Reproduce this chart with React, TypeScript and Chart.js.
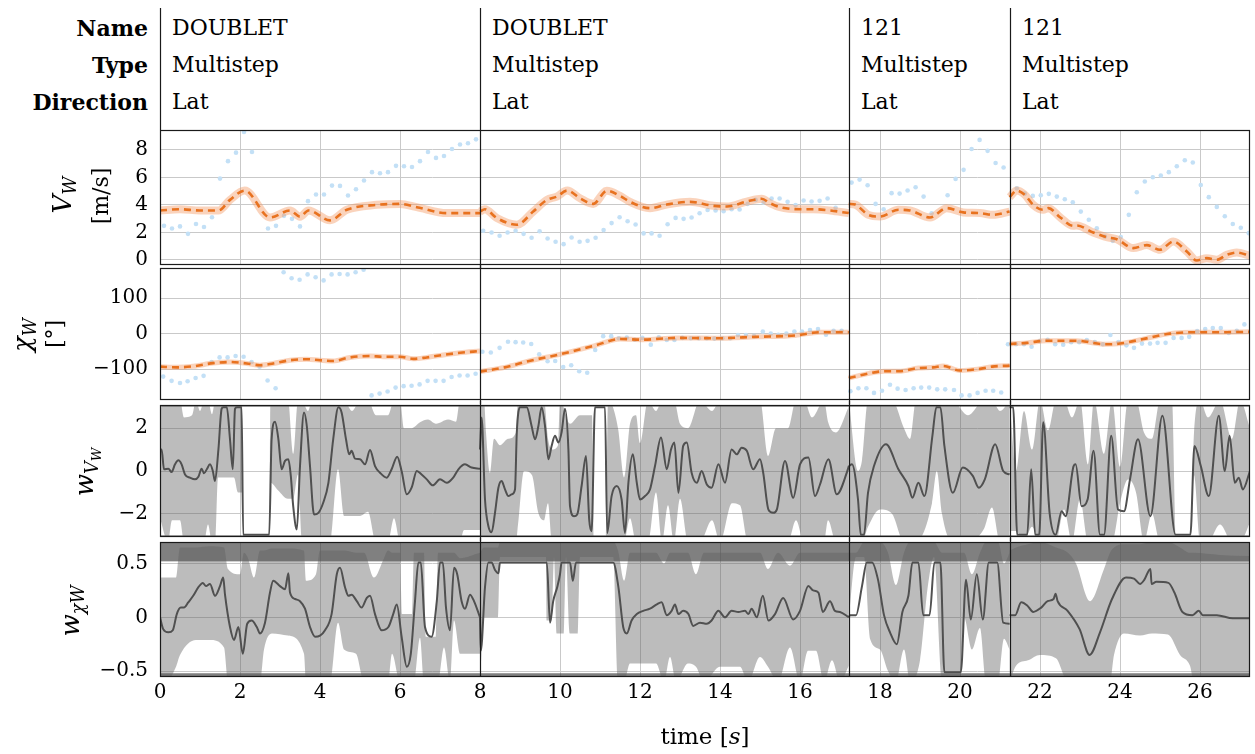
import React, { useEffect, useRef } from 'react';
import { Chart, registerables } from 'chart.js';

Chart.register(...registerables);

// ---------------- axes / labels ----------------
const T_MIN = 0;
const T_MAX = 27.25;
const SEGMENT_STARTS = [8, 17.22, 21.24];
const TIME_TICKS = [0, 2, 4, 6, 8, 10, 12, 14, 16, 18, 20, 22, 24, 26];
const VW_TICKS = [0, 2, 4, 6, 8];
const CHI_TICKS = [-100, 0, 100];
const WV_TICKS = [-2, 0, 2];
const WCHI_TICKS = [-0.5, 0, 0.5];

const HEADER_LABELS = ['Name', 'Type', 'Direction'];
const SEG_NAMES = ['DOUBLET', 'DOUBLET', '121', '121'];
const SEG_TYPES = ['Multistep', 'Multistep', 'Multistep', 'Multistep'];
const SEG_DIRS = ['Lat', 'Lat', 'Lat', 'Lat'];

type Pair = [number, number];
type Tri = [number, number, number];

// ---------------- V_W [m/s] ----------------
const vwMeasured: Pair[] = [
  [0.1, 2.47], [0.3, 2.28], [0.5, 2.43], [0.7, 1.89], [0.9, 2.6], [1.1, 2.39], [1.3, 3.1], [1.5, 5.91], [1.7, 7.18], [1.9, 7.8],
  [2.1, 9.31], [2.3, 7.85], [2.7, 2.28], [2.9, 2.47], [3.1, 3.2], [3.3, 2.98], [3.5, 2.43], [3.7, 4.27], [3.9, 4.75], [4.1, 4.75],
  [4.3, 5.4], [4.5, 5.38], [4.7, 4.68], [4.9, 5.14], [5.1, 5.77], [5.3, 6.38], [5.5, 6.3], [5.7, 6.38], [5.9, 6.84], [6.1, 6.81],
  [6.3, 6.76], [6.5, 7.18], [6.7, 7.85], [6.9, 7.42], [7.1, 7.56], [7.3, 8.07], [7.5, 8.39], [7.7, 8.48], [7.9, 8.77],
  [8.08, 2.11], [8.29, 1.99], [8.49, 1.75], [8.69, 1.99], [8.89, 2.11], [9.09, 1.89], [9.29, 1.6], [9.49, 2.08], [9.69, 1.55], [9.89, 1.31],
  [10.09, 1.14], [10.29, 1.62], [10.49, 1.31], [10.69, 1.38], [10.89, 1.6], [11.09, 2.16], [11.29, 2.67], [11.49, 3.1], [11.69, 2.81], [11.89, 2.57],
  [12.09, 1.92], [12.29, 1.92], [12.49, 1.75], [12.69, 2.59], [12.89, 3.05], [13.09, 2.98], [13.29, 3.08], [13.49, 3.39], [13.69, 3.63], [13.89, 3.59],
  [14.09, 3.54], [14.29, 3.68], [14.49, 3.66], [14.69, 4.07], [14.89, 4.36], [15.09, 4.17], [15.29, 4.46], [15.49, 4.46], [15.69, 4.22], [15.89, 3.98],
  [16.09, 4.32], [16.29, 4.24], [16.49, 4.29], [16.69, 4.46], [16.89, 3.78],
  [17.29, 5.62], [17.49, 5.84], [17.69, 5.43], [17.89, 4.07], [18.09, 3.68], [18.29, 4.85], [18.49, 4.82], [18.69, 5.04], [18.89, 5.28], [19.09, 4.6],
  [19.29, 3.39], [19.69, 4.7], [19.89, 5.89], [20.09, 6.55], [20.29, 8.07], [20.49, 8.73], [20.69, 7.93], [20.89, 7.05], [21.09, 6.72],
  [21.42, 5.21], [21.62, 4.82], [21.82, 4.65], [22.02, 4.7], [22.22, 4.8], [22.42, 4.6], [22.62, 4.41], [22.82, 4.19], [23.02, 3.51], [23.22, 2.91],
  [23.42, 2.3], [23.62, 1.7], [23.82, 1.38], [24.02, 1.65], [24.22, 3.27], [24.42, 4.92], [24.62, 5.7], [24.82, 6.01], [25.02, 6.13], [25.22, 6.38],
  [25.42, 6.81], [25.62, 7.25], [25.82, 7.08], [26.02, 5.45], [26.22, 4.56], [26.42, 3.85], [26.62, 3.17], [26.82, 2.61], [27.02, 2.33], [27.22, 1.94],
];
const vwEstSeg1: Pair[] = [[0, 3.59], [0.5, 3.68], [1.0, 3.59], [1.46, 3.59], [1.75, 4.36], [2.12, 5.04], [2.75, 3.08], [3.25, 3.59], [3.5, 3.14], [3.71, 3.59], [4.25, 2.87], [4.67, 3.64], [5.42, 4.0], [6.0, 4.07], [6.42, 3.83], [7.17, 3.4], [8.0, 3.4]];
const vwEstSeg2: Pair[] = [[8.0, 3.51], [8.12, 3.68], [8.42, 3.04], [8.92, 2.55], [9.33, 3.51], [9.67, 4.36], [9.92, 4.6], [10.18, 5.04], [10.5, 4.48], [10.83, 4.07], [11.17, 5.02], [11.5, 4.65], [11.75, 4.22], [12.25, 3.76], [12.67, 4.02], [13.25, 4.22], [13.83, 3.93], [14.17, 3.88], [14.67, 4.24], [15.04, 4.44], [15.25, 4.12], [15.5, 3.83], [16.0, 3.68], [16.33, 3.68], [16.75, 3.59], [17.22, 3.4]];
const vwEstSeg3: Pair[] = [[17.22, 4.07], [17.38, 4.02], [17.71, 3.27], [18.0, 3.15], [18.46, 3.64], [18.75, 3.59], [19.25, 3.08], [19.67, 3.76], [20.08, 3.45], [20.5, 3.4], [20.83, 3.27], [21.24, 3.51]];
const vwEstSeg4: Pair[] = [[21.24, 4.56], [21.42, 5.04], [21.62, 4.73], [21.83, 4.0], [22.08, 3.64], [22.21, 3.76], [22.5, 3.1], [22.83, 2.47], [22.92, 2.5], [23.33, 1.99], [23.67, 1.65], [23.92, 1.5], [24.33, 0.85], [24.67, 1.07], [25.0, 0.73], [25.33, 1.33], [25.67, 0.61], [25.92, -0.05], [26.17, 0.12], [26.42, 0.0], [26.67, 0.36], [26.92, 0.53], [27.25, 0.29]];

// ---------------- chi_W [deg] ----------------
const chiMeasured: Pair[] = [
  [0.08, -121], [0.29, -133], [0.5, -139], [0.69, -134], [0.89, -125], [1.09, -119], [1.29, -80], [1.49, -67], [1.69, -67], [1.89, -63],
  [2.09, -65], [2.29, -80], [2.49, -93], [2.69, -132], [2.89, -154], [3.09, 173], [3.29, 156], [3.49, 152], [3.69, 167], [3.89, 159],
  [4.09, 150], [4.29, 167], [4.49, 168], [4.69, 167], [4.89, 173], [5.09, 180], [5.29, -174], [5.49, -169], [5.69, -163], [5.89, -152],
  [6.09, -148], [6.29, -147], [6.49, -143], [6.69, -133], [6.89, -133], [7.09, -133], [7.29, -122], [7.49, -118], [7.69, -118], [7.89, -113],
  [8.06, -51], [8.27, -53], [8.49, -40], [8.7, -23], [8.89, -24], [9.08, -25], [9.28, -29], [9.48, -58], [9.69, -78], [9.88, -77],
  [10.08, -94], [10.28, -89], [10.48, -106], [10.68, -110], [10.88, -46], [11.08, -7], [11.28, -7], [11.47, -13], [11.67, -11], [11.87, -17],
  [12.06, -12], [12.27, -31], [12.47, -10], [12.67, -18], [12.86, -18], [13.06, -12], [13.27, -13], [13.47, -13], [13.67, -13], [13.86, -14],
  [14.06, -13], [14.26, -13], [14.45, -4], [14.65, -4], [14.85, -7], [15.07, 6], [15.27, 0], [15.46, -3], [15.66, 0], [15.86, 6],
  [16.05, 6], [16.25, 10], [16.45, 13], [16.65, -3], [16.84, 8], [17.04, 8],
  [17.26, -162], [17.46, -154], [17.66, -154], [17.85, -167], [18.05, -161], [18.25, -144], [18.44, -155], [18.64, -159], [18.84, -154], [19.03, -152],
  [19.23, -152], [19.43, -157], [19.63, -157], [19.85, -159], [20.04, -174], [20.24, -174], [20.44, -167], [20.64, -161], [20.83, -161], [21.03, -166],
  [21.2, -30], [21.4, -30], [21.6, -30], [21.79, -37], [21.99, -21], [22.19, -17], [22.38, -30], [22.58, -31], [22.78, -24], [22.98, -24],
  [23.17, -18], [23.37, -24], [23.57, -30], [23.76, -4], [23.96, -24], [24.16, -33], [24.35, -40], [24.55, -28], [24.75, -28], [24.94, -26],
  [25.14, -26], [25.34, -12], [25.54, -12], [25.73, -9], [25.93, 7], [26.13, 13], [26.32, 16], [26.52, 16], [26.72, 2], [26.92, 8], [27.11, 26],
];
const chiEstSeg1: Pair[] = [[0, -93], [0.42, -95], [0.83, -92], [1.33, -83], [1.75, -80], [2.17, -84], [2.5, -89], [2.83, -84], [3.25, -75], [3.67, -72], [4.0, -75], [4.33, -77], [4.75, -67], [5.25, -63], [5.58, -65], [6.0, -65], [6.33, -71], [6.67, -67], [7.08, -60], [7.5, -54], [8.0, -49]];
const chiEstSeg2: Pair[] = [[8.0, -107], [8.62, -95], [9.23, -77], [9.97, -59], [10.83, -35], [11.51, -15], [12.06, -17], [12.93, -12], [13.91, -13], [14.9, -9], [15.88, -5], [16.5, 4], [17.22, 4]];
const chiEstSeg3: Pair[] = [[17.22, -125], [17.73, -112], [18.1, -106], [18.47, -106], [18.96, -97], [19.33, -95], [19.58, -91], [20.0, -104], [20.44, -100], [20.8, -93], [21.24, -90]];
const chiEstSeg4: Pair[] = [[21.24, -29], [21.67, -26], [22.16, -20], [22.9, -20], [23.64, -30], [24.0, -28], [24.63, -14], [25.24, 0], [25.86, 4], [26.47, 4], [27.25, 5]];

// ---------------- w_{V_W} ----------------
const wvSeg1: Pair[] = [[0, 1.0], [0.04, 1.0], [0.1, 0.08], [0.21, 0.11], [0.29, -0.05], [0.375, 0.31], [0.46, 0.5], [0.54, 0.31], [0.625, -0.16], [0.75, -0.31], [0.875, -0.39], [0.96, -0.27], [1.04, 0.11], [1.1, -0.11], [1.17, 0.08], [1.25, 0.31], [1.32, 0.0], [1.375, -0.47], [1.46, 1.0], [1.54, 2.9], [1.58, 2.98], [1.67, 2.98], [1.75, 1.48], [1.82, 0.08], [1.875, 2.9], [1.92, 2.98], [2.04, 2.98], [2.08, -2.97], [2.73, -2.97], [2.79, 1.48], [2.875, 2.3], [2.96, 1.48], [3.04, 0.08], [3.125, 0.47], [3.21, 0.55], [3.27, -0.23], [3.33, -1.64], [3.42, -2.73], [3.5, 0.23], [3.6, 2.73], [3.67, 2.1], [3.75, 0.23], [3.85, -2.03], [3.96, -1.95], [4.08, -1.48], [4.21, -0.55], [4.33, 1.48], [4.46, 2.97], [4.54, 2.73], [4.65, 1.48], [4.73, 0.78], [4.79, 0.94], [4.875, 0.58], [5.0, 0.55], [5.125, 0.31], [5.25, 0.98], [5.375, 0.23], [5.5, -0.08], [5.67, -0.31], [5.79, 0.08], [5.93, 0.67], [6.04, 0.0], [6.17, -1.09], [6.29, -0.78], [6.42, 0.0], [6.54, -0.16], [6.67, -0.39], [6.82, -0.67], [7.0, -0.39], [7.17, -0.55], [7.33, -0.31], [7.46, 0.08], [7.625, 0.31], [7.79, 0.16], [8.0, 0.11]];
const wvSeg2: Pair[] = [[8.0, 1.0], [8.04, 2.5], [8.125, -1.33], [8.21, -2.58], [8.29, -2.86], [8.375, -1.95], [8.46, -0.78], [8.54, -0.47], [8.625, -0.86], [8.71, -1.17], [8.79, -1.09], [8.875, -0.86], [8.92, 1.8], [9.0, 2.98], [9.17, 2.97], [9.29, 2.1], [9.375, 1.48], [9.46, 2.1], [9.54, 2.97], [9.625, 2.1], [9.71, 0.55], [9.79, 1.17], [9.875, 1.64], [9.96, 1.33], [10.04, 1.8], [10.125, 2.9], [10.21, 1.0], [10.25, -1.64], [10.35, -2.11], [10.43, -2.03], [10.54, -0.7], [10.65, 0.7], [10.73, -2.27], [10.79, -2.81], [10.875, 2.97], [11.125, 2.97], [11.18, -2.89], [11.29, -1.17], [11.42, -0.7], [11.54, -1.33], [11.625, -2.89], [11.71, -0.55], [11.82, 0.78], [11.92, -0.55], [12.0, -1.33], [12.125, -1.17], [12.25, -0.86], [12.375, 0.23], [12.525, 1.56], [12.67, 0.08], [12.775, 1.0], [12.86, 1.33], [12.96, -1.02], [13.08, 1.17], [13.17, 1.33], [13.29, -0.08], [13.42, -0.55], [13.54, 0.0], [13.67, -0.63], [13.79, -0.78], [13.96, 0.31], [14.125, -0.55], [14.29, 1.0], [14.42, 0.78], [14.54, 1.09], [14.67, 0.94], [14.83, 0.08], [15.0, 0.55], [15.08, -0.08], [15.21, -1.8], [15.33, -1.95], [15.42, -1.8], [15.625, 0.47], [15.83, -1.25], [16.0, 0.31], [16.21, 0.63], [16.375, -1.17], [16.5, -0.63], [16.71, 0.55], [16.92, -1.09], [17.17, -0.08], [17.22, 0.23]];
const wvSeg3: Pair[] = [[17.22, 0.23], [17.3, 0.31], [17.45, -1.33], [17.52, -2.98], [17.6, -2.98], [17.7, -1.02], [17.85, 0.23], [18.15, 1.25], [18.46, 0.08], [18.71, -0.7], [18.81, -1.25], [18.96, -0.55], [19.11, -1.17], [19.31, 1.64], [19.41, 2.98], [19.51, 2.98], [19.61, 1.17], [19.82, -1.02], [20.07, 0.16], [20.32, -0.23], [20.47, -0.78], [20.62, -0.39], [20.88, 1.25], [21.08, 0.0], [21.24, -0.16]];
const wvSeg4: Pair[] = [[21.24, 2.98], [21.33, 2.98], [21.43, -2.98], [21.68, -2.98], [21.78, 0.08], [21.88, -2.98], [21.98, -2.98], [22.08, 2.27], [22.24, -1.95], [22.39, -2.98], [22.54, -1.88], [22.64, -2.11], [22.84, 0.23], [22.89, 0.31], [23.04, -1.64], [23.19, -1.33], [23.34, 0.94], [23.5, -2.98], [23.6, -2.98], [23.78, 1.64], [23.95, -1.8], [24.1, -1.88], [24.25, -0.39], [24.45, 1.48], [24.76, -2.11], [25.06, 2.58], [25.39, -2.98], [25.76, -2.98], [25.86, 1.17], [26.02, 0.23], [26.22, -1.17], [26.47, 2.58], [26.62, 0.0], [26.74, 1.64], [26.87, -0.55], [26.97, -0.31], [27.07, -0.86], [27.25, 0.0]];
// [t, upper, lower]
const wvBandSeg1: Tri[] = [[0, 2.9, -2.2], [0.2, 3.3, -3.3], [0.3, 3.3, -2.3], [0.5, 3.3, -2.3], [0.6, 2.5, -3.3], [0.8, 2.6, -3.3], [0.9, 3.3, -3.3], [1.0, 2.8, -3.3], [1.1, 3.3, -3.3], [1.2, 3.3, -2.5], [1.3, 2.65, -3.3], [1.38, 3.3, -3.3], [1.45, 3.3, -0.3], [1.85, 3.3, -0.3], [1.95, 3.3, -1.0], [2.05, 3.3, -1.0], [2.08, -3.3, -3.3], [2.73, -3.3, -3.3], [2.76, 3.3, -0.55], [2.95, 3.3, -0.9], [3.2, 3.3, -1.3], [3.33, 0.8, -1.3], [3.45, 3.3, -0.16], [3.55, 3.3, -3.3], [3.7, 2.8, -3.3], [3.8, 3.3, -3.3], [4.25, 3.3, -3.3], [4.45, 3.3, 0.08], [4.6, 3.3, -2.1], [4.8, 2.8, -2.1], [5.0, 3.3, -2.1], [5.2, 3.3, -1.9], [5.4, 2.6, -3.3], [5.7, 2.6, -3.3], [5.85, 3.3, -2.2], [6.0, 3.3, -3.3], [6.1, 2.0, -3.3], [6.3, 2.0, -3.3], [6.5, 2.27, -3.3], [6.7, 2.4, -3.3], [6.9, 2.2, -3.3], [7.2, 2.4, -3.3], [7.4, 2.3, -3.3], [7.5, 3.3, -3.3], [7.6, 3.3, -2.75], [8.0, 3.3, -2.75]];
const wvBandSeg2: Tri[] = [[8.0, 3.3, -3.3], [8.1, 3.3, -3.3], [8.15, 1.8, -3.3], [8.25, -0.08, -3.3], [8.35, 1.5, -3.3], [8.5, 1.2, -3.3], [8.7, 1.5, -3.3], [8.9, 1.8, -3.3], [8.95, 3.3, -2.5], [9.1, 3.3, 0.0], [9.3, 3.3, -0.2], [9.45, 3.3, -1.9], [9.6, 3.3, -2.3], [9.7, 1.5, -1.5], [9.8, 1.0, -3.3], [9.95, 1.2, -3.3], [10.0, 3.3, -3.3], [10.25, 2.2, -3.3], [10.5, 2.6, -3.3], [10.8, 2.6, -3.3], [10.85, -3.3, -3.3], [11.15, -3.3, -3.3], [11.2, 3.3, -3.3], [11.45, 2.0, -3.3], [11.6, -0.3, -3.3], [11.75, 2.2, -2.2], [11.9, 2.6, -3.3], [12.0, 1.3, -3.3], [12.2, 3.3, -3.3], [12.4, 2.8, -1.0], [12.55, 3.3, -3.3], [12.7, 3.3, -1.6], [12.85, 3.3, -3.3], [13.0, 2.2, -1.3], [13.2, 2.0, -3.3], [13.5, 3.3, -3.3], [13.8, 2.8, -2.3], [14.0, 3.3, -3.3], [14.3, 3.3, -1.5], [14.5, 3.3, -1.6], [14.7, 3.3, -3.3], [15.0, 3.3, -3.3], [15.2, 0.7, -3.3], [15.4, 2.0, -3.3], [15.7, 2.0, -3.3], [15.9, 3.3, -2.3], [16.1, 3.3, -3.3], [16.3, 2.5, -3.3], [16.6, 3.3, -3.3], [16.7, 2.3, -2.3], [16.9, 1.8, -3.3], [17.22, 3.0, -3.3]];
const wvBandSeg3: Tri[] = [[17.22, 3.3, -3.3], [17.45, 0.0, -3.3], [17.55, 0.5, -3.3], [17.7, 3.3, -2.6], [18.0, 3.3, -1.8], [18.3, 3.3, -2.0], [18.6, 2.0, -3.3], [18.75, 1.5, -3.3], [18.9, 3.3, -3.3], [19.3, 3.3, -1.5], [19.42, 3.3, 0.0], [19.55, 3.3, -2.0], [19.8, 3.3, -3.3], [20.2, 2.6, -3.3], [20.6, 3.3, -2.7], [20.8, 3.3, -1.7], [21.0, 2.8, -3.3], [21.24, 3.3, -3.3]];
const wvBandSeg4: Tri[] = [[21.24, 3.3, -2.8], [21.4, 0.0, -2.8], [21.6, 2.8, -3.3], [21.8, 1.0, -2.6], [22.0, 3.3, -3.3], [22.2, 1.9, -3.3], [22.4, 3.3, -3.3], [22.6, 3.3, -1.8], [22.8, 2.5, -3.3], [23.0, 3.3, -1.3], [23.2, 0.3, -3.3], [23.35, 3.3, -3.3], [23.6, 0.8, -3.3], [23.8, 3.3, -3.3], [24.0, 0.2, -1.5], [24.2, 3.3, -0.4], [24.4, 3.3, -1.0], [24.6, 1.8, -3.3], [24.8, 1.5, -2.0], [25.0, 3.3, -3.3], [25.3, 3.3, -3.3], [25.4, -3.3, -3.3], [25.75, -3.3, -3.3], [25.85, 1.8, -0.2], [26.0, 3.3, -3.3], [26.2, 2.5, -3.3], [26.5, 3.3, -2.5], [26.8, 1.5, -3.3], [27.0, 3.3, -3.3], [27.25, 2.0, -2.4]];

// ---------------- w_{chi_W} ----------------
const wcSeg1: Pair[] = [[0, 0.0], [0.08, -0.11], [0.21, -0.14], [0.32, -0.12], [0.42, 0.03], [0.52, 0.09], [0.6, 0.09], [0.71, 0.14], [0.83, 0.2], [0.96, 0.28], [1.07, 0.32], [1.15, 0.29], [1.25, 0.31], [1.375, 0.2], [1.5, 0.29], [1.58, 0.37], [1.625, 0.21], [1.75, -0.09], [1.85, -0.21], [1.96, -0.09], [2.07, -0.34], [2.18, -0.06], [2.29, -0.03], [2.42, -0.09], [2.5, -0.15], [2.625, -0.05], [2.75, 0.23], [2.83, 0.34], [3.0, 0.29], [3.125, 0.26], [3.21, 0.41], [3.25, 0.23], [3.375, 0.17], [3.5, 0.15], [3.625, 0.08], [3.75, -0.09], [3.875, -0.18], [4.0, -0.17], [4.125, -0.12], [4.29, 0.03], [4.42, 0.4], [4.5, 0.46], [4.625, 0.28], [4.71, 0.2], [4.79, 0.21], [4.92, 0.15], [5.04, 0.09], [5.17, 0.18], [5.25, 0.2], [5.375, 0.03], [5.54, -0.12], [5.71, -0.09], [5.83, 0.03], [5.92, 0.12], [6.04, -0.18], [6.17, -0.46], [6.27, -0.34], [6.375, 0.15], [6.46, 0.51], [6.52, 0.51], [6.625, -0.09], [6.79, -0.18], [6.92, 0.15], [7.0, 0.51], [7.07, 0.51], [7.15, 0.09], [7.25, -0.12], [7.35, 0.46], [7.43, 0.4], [7.54, 0.15], [7.625, 0.08], [7.75, 0.21], [7.85, 0.15], [8.0, 0.0]];
const wcSeg2: Pair[] = [[8.0, 0.0], [8.02, -0.31], [8.125, 0.28], [8.21, 0.51], [8.29, 0.51], [8.375, 0.44], [8.46, 0.41], [8.5, 0.51], [9.67, 0.51], [9.75, -0.05], [9.83, 0.15], [9.93, 0.28], [10.0, 0.4], [10.04, 0.51], [10.25, 0.51], [10.32, 0.34], [10.4, 0.51], [11.33, 0.51], [11.46, 0.28], [11.58, -0.09], [11.67, -0.15], [11.79, -0.03], [11.92, 0.03], [12.08, 0.06], [12.25, 0.08], [12.42, 0.12], [12.54, 0.14], [12.67, 0.02], [12.79, 0.06], [12.875, 0.12], [12.96, 0.03], [13.08, 0.06], [13.21, 0.03], [13.33, -0.08], [13.5, -0.05], [13.67, -0.06], [13.79, -0.03], [13.96, 0.06], [14.125, 0.0], [14.29, 0.06], [14.46, 0.05], [14.625, 0.06], [14.71, 0.03], [14.79, 0.08], [14.92, 0.0], [15.07, 0.2], [15.21, -0.03], [15.375, 0.03], [15.58, 0.18], [15.83, -0.02], [16.0, 0.06], [16.21, 0.29], [16.33, 0.25], [16.46, 0.23], [16.57, 0.05], [16.75, 0.15], [16.875, 0.06], [17.0, 0.05], [17.22, 0.0]];
const wcSeg3: Pair[] = [[17.22, 0.0], [17.25, 0.02], [17.4, 0.02], [17.55, 0.29], [17.67, 0.51], [17.8, 0.51], [17.95, 0.35], [18.1, 0.02], [18.25, -0.14], [18.42, -0.25], [18.56, 0.05], [18.71, 0.2], [18.81, 0.51], [18.96, 0.51], [19.08, 0.02], [19.24, 0.02], [19.36, 0.51], [19.51, 0.51], [19.61, -0.51], [20.02, -0.51], [20.15, 0.35], [20.27, -0.02], [20.42, 0.4], [20.57, -0.02], [20.72, 0.51], [20.93, 0.51], [21.08, -0.05], [21.24, -0.06]];
const wcSeg4: Pair[] = [[21.24, 0.02], [21.38, 0.02], [21.53, 0.14], [21.68, 0.11], [21.83, 0.05], [22.03, 0.09], [22.19, 0.15], [22.34, 0.17], [22.39, 0.22], [22.44, 0.15], [22.69, 0.06], [22.99, -0.11], [23.24, -0.35], [23.5, -0.14], [23.8, 0.17], [24.15, 0.37], [24.35, 0.36], [24.5, 0.31], [24.61, 0.35], [24.76, 0.45], [24.79, 0.31], [24.91, 0.33], [25.21, 0.32], [25.36, 0.23], [25.56, 0.05], [25.81, 0.02], [25.97, 0.06], [26.07, 0.02], [26.42, 0.02], [26.82, -0.01], [27.25, -0.01]];
const wcBandSeg1: Tri[] = [[0, 0.37, -0.6], [0.15, 0.37, -0.6], [0.4, 0.37, -0.46], [0.5, 0.65, -0.35], [0.9, 0.65, -0.21], [1.25, 0.66, -0.21], [1.6, 0.65, -0.28], [1.7, 0.45, -0.6], [2.0, 0.4, -0.6], [2.1, 0.6, -0.6], [2.2, 0.55, -0.6], [2.35, 0.37, -0.6], [2.5, 0.62, -0.6], [2.6, 0.62, -0.3], [2.8, 0.64, -0.15], [3.2, 0.64, -0.17], [3.6, 0.62, -0.34], [3.65, 0.34, -0.6], [3.9, 0.4, -0.6], [4.0, 0.62, -0.6], [4.25, 0.62, -0.6], [4.45, 0.62, -0.05], [4.6, 0.62, -0.3], [4.9, 0.6, -0.34], [5.1, 0.6, -0.6], [5.35, 0.37, -0.6], [5.6, 0.55, -0.6], [5.7, 0.62, -0.6], [5.8, 0.6, -0.34], [6.0, 0.6, -0.6], [6.05, 0.03, -0.6], [6.3, 0.03, -0.6], [6.35, 0.6, -0.6], [6.5, 0.6, -0.19], [6.6, 0.6, -0.6], [6.65, -0.18, -0.6], [6.9, -0.18, -0.6], [6.95, 0.6, -0.6], [7.1, 0.6, -0.28], [7.25, 0.6, -0.6], [7.35, 0.6, -0.03], [7.5, 0.55, -0.34], [8.0, 0.6, -0.34]];
const wcBandSeg2: Tri[] = [[8.0, 0.6, -0.6], [8.1, 0.65, 0.0], [8.45, 0.65, 0.0], [8.5, 0.7, 0.56], [9.65, 0.7, 0.56], [9.67, 0.7, -0.03], [9.8, 0.7, -0.03], [9.85, 0.7, 0.56], [9.92, 0.7, -0.15], [10.1, 0.7, -0.15], [10.15, 0.7, 0.56], [10.25, 0.7, -0.15], [10.45, 0.7, -0.15], [10.5, 0.7, 0.56], [11.33, 0.7, 0.56], [11.45, 0.62, -0.6], [11.6, 0.34, -0.6], [11.75, 0.6, -0.43], [12.4, 0.6, -0.43], [12.6, 0.5, -0.6], [12.75, 0.6, -0.37], [12.9, 0.6, -0.6], [13.2, 0.6, -0.43], [13.4, 0.4, -0.46], [13.6, 0.6, -0.6], [14.0, 0.6, -0.46], [14.5, 0.6, -0.46], [14.7, 0.6, -0.6], [15.0, 0.6, -0.37], [15.2, 0.45, -0.46], [15.45, 0.6, -0.6], [15.75, 0.48, -0.28], [16.0, 0.6, -0.6], [16.2, 0.6, -0.31], [16.4, 0.6, -0.31], [16.6, 0.6, -0.6], [16.8, 0.6, -0.4], [17.0, 0.6, -0.6], [17.22, 0.6, -0.45]];
const wcBandSeg3: Tri[] = [[17.22, 0.6, 0.0], [17.4, 0.6, 0.56], [17.6, 0.7, 0.56], [17.75, 0.7, -0.2], [18.0, 0.7, -0.3], [18.2, 0.6, -0.5], [18.4, 0.3, -0.6], [18.6, 0.6, -0.3], [18.75, 0.7, -0.6], [19.0, 0.7, -0.4], [19.2, 0.7, 0.3], [19.35, 0.7, 0.56], [19.55, 0.6, -0.6], [20.0, 0.6, -0.6], [20.1, 0.6, 0.0], [20.3, 0.4, -0.3], [20.5, 0.6, -0.1], [20.65, 0.7, -0.6], [20.95, 0.7, -0.6], [21.1, 0.5, -0.2], [21.24, 0.6, -0.3]];
const wcBandSeg4: Tri[] = [[21.24, 0.62, -0.6], [21.4, 0.65, -0.45], [21.7, 0.68, -0.4], [22.0, 0.7, -0.35], [22.4, 0.65, -0.38], [22.7, 0.6, -0.6], [22.9, 0.5, -0.6], [23.25, 0.15, -0.6], [23.6, 0.45, -0.6], [23.75, 0.6, -0.6], [23.85, 0.65, -0.35], [24.1, 0.68, -0.15], [24.5, 0.68, -0.17], [24.8, 0.7, -0.15], [25.2, 0.7, -0.16], [25.5, 0.65, -0.35], [25.75, 0.6, -0.45], [25.85, 0.6, -0.6], [26.5, 0.58, -0.6], [27.25, 0.57, -0.6]];

// ---------------- styles ----------------
const SERIF = "'DejaVu Serif', serif";
const HEAD_FONT = "'DejaVu Serif', serif";
const GRID = '#c9c9c9';
const BLUE = '#c3e0f6';
const ORANGE = '#e8721f';
const ORANGE_BAND = 'rgba(242,150,95,0.42)';
const GRAY_FILL = 'rgba(95,95,95,0.42)';
const DARK_BAND = 'rgba(60,60,60,0.65)';
const LINE_GRAY = '#505050';

// ---------------- helpers ----------------
const joinSegs = (segs: Pair[][]) => {
  const out: { x: number; y: number | null }[] = [];
  segs.forEach((s, i) => {
    if (i > 0) out.push({ x: s[0][0], y: null });
    s.forEach(([x, y]) => out.push({ x, y }));
  });
  return out;
};
const joinBand = (segs: Tri[][], col: 1 | 2) => {
  const out: { x: number; y: number | null }[] = [];
  segs.forEach((s, i) => {
    if (i > 0) out.push({ x: s[0][0], y: null });
    s.forEach((r) => out.push({ x: r[0], y: r[col] }));
  });
  return out;
};
const fmt = (v: number) => (v < 0 ? '\u2212' + Math.abs(v) : String(v));

const estimateDatasets = (segs: Pair[][], bandWidth: number) => [
  { data: joinSegs(segs), borderColor: ORANGE, borderWidth: 2.6, borderDash: [7, 5], pointRadius: 0, fill: false, cubicInterpolationMode: 'monotone' },
  { data: joinSegs(segs), borderColor: ORANGE_BAND, borderWidth: bandWidth, borderJoinStyle: 'round', borderCapStyle: 'butt', pointRadius: 0, fill: false, cubicInterpolationMode: 'monotone' },
];
const measuredDataset = (pts: Pair[]) => ({
  data: pts.map(([x, y]) => ({ x, y })), showLine: false, pointRadius: 2.3, pointBackgroundColor: BLUE, pointBorderWidth: 0, fill: false,
});
const weightDatasets = (line: Pair[][], band: Tri[][]) => [
  { data: joinSegs(line), borderColor: LINE_GRAY, borderWidth: 2, pointRadius: 0, fill: false, cubicInterpolationMode: 'monotone' },
  { data: joinBand(band, 1), borderWidth: 0, borderColor: 'rgba(0,0,0,0)', backgroundColor: GRAY_FILL, pointRadius: 0, fill: '+1', cubicInterpolationMode: 'monotone' },
  { data: joinBand(band, 2), borderWidth: 0, borderColor: 'rgba(0,0,0,0)', pointRadius: 0, fill: false, cubicInterpolationMode: 'monotone' },
];

interface PanelSpec {
  key: string; top: number; height: number; padTop: number; padBottom: number; xHeight: number; showX: boolean;
  yMin: number; yMax: number; yTicks: number[]; datasets: any[]; darkBands?: number[][]; header?: boolean;
}

const PANELS: PanelSpec[] = [
  {
    key: 'vw', top: 0, height: 279, padTop: 130, padBottom: 14, xHeight: 0, showX: false, yMin: -0.38, yMax: 9.45, yTicks: VW_TICKS, header: true,
    datasets: [...estimateDatasets([vwEstSeg1, vwEstSeg2, vwEstSeg3, vwEstSeg4], 8), measuredDataset(vwMeasured)],
  },
  {
    key: 'chi', top: 254, height: 160, padTop: 14, padBottom: 14, xHeight: 0, showX: false, yMin: -187, yMax: 185, yTicks: CHI_TICKS,
    datasets: [...estimateDatasets([chiEstSeg1, chiEstSeg2, chiEstSeg3, chiEstSeg4], 5), measuredDataset(chiMeasured)],
  },
  {
    key: 'wv', top: 391, height: 160, padTop: 14, padBottom: 14, xHeight: 0, showX: false, yMin: -3.08, yMax: 3.08, yTicks: WV_TICKS,
    darkBands: [[3.0, 3.3], [-3.3, -3.0]],
    datasets: weightDatasets([wvSeg1, wvSeg2, wvSeg3, wvSeg4], [wvBandSeg1, wvBandSeg2, wvBandSeg3, wvBandSeg4]),
  },
  {
    key: 'wc', top: 528, height: 226, padTop: 14, padBottom: 0, xHeight: 77, showX: true, yMin: -0.555, yMax: 0.7, yTicks: WCHI_TICKS,
    darkBands: [[0.52, 0.9], [-0.9, -0.52]],
    datasets: weightDatasets([wcSeg1, wcSeg2, wcSeg3, wcSeg4], [wcBandSeg1, wcBandSeg2, wcBandSeg3, wcBandSeg4]),
  },
];

const decorPlugin = (p: PanelSpec) => ({
  id: 'decor_' + p.key,
  beforeDatasetsDraw(chart: any) {
    if (!p.darkBands) return;
    const { ctx, chartArea: a, scales } = chart;
    const y = scales.y;
    ctx.save();
    ctx.beginPath();
    ctx.rect(a.left, a.top, a.right - a.left, a.bottom - a.top);
    ctx.clip();
    ctx.fillStyle = DARK_BAND;
    p.darkBands.forEach(([lo, hi]) => {
      const y1 = y.getPixelForValue(hi);
      const y2 = y.getPixelForValue(lo);
      ctx.fillRect(a.left, Math.min(y1, y2), a.right - a.left, Math.abs(y2 - y1));
    });
    ctx.restore();
  },
  afterDatasetsDraw(chart: any) {
    const { ctx, chartArea: a, scales } = chart;
    const x = scales.x;
    ctx.save();
    ctx.strokeStyle = '#1a1a1a';
    ctx.lineWidth = 1.2;
    const L = Math.round(a.left) + 0.5;
    const R = Math.round(a.right) - 0.5;
    const T = Math.round(a.top) + 0.5;
    const B = Math.round(a.bottom) - 0.5;
    ctx.strokeRect(L, T, R - L, B - T);
    const sepTop = p.header ? 8 : a.top - 4;
    const sepBottom = p.showX ? a.bottom : a.bottom + 4;
    SEGMENT_STARTS.forEach((t) => {
      const px = Math.round(x.getPixelForValue(t)) + 0.5;
      ctx.beginPath();
      ctx.moveTo(px, sepTop);
      ctx.lineTo(px, sepBottom);
      ctx.stroke();
    });
    if (p.header) {
      ctx.beginPath();
      ctx.moveTo(L, 8);
      ctx.lineTo(L, a.top);
      ctx.stroke();
    }
    ctx.restore();
  },
});

const buildConfig = (p: PanelSpec): any => ({
  type: 'line',
  data: { datasets: p.datasets },
  options: {
    animation: false,
    responsive: false,
    maintainAspectRatio: false,
    events: [],
    layout: { padding: { left: 0, right: 5, top: p.padTop, bottom: p.padBottom } },
    plugins: { legend: { display: false }, tooltip: { enabled: false } },
    elements: { line: { tension: 0 }, point: { radius: 0 } },
    scales: {
      x: {
        type: 'linear', min: T_MIN, max: T_MAX,
        afterBuildTicks: (s: any) => { s.ticks = TIME_TICKS.map((v) => ({ value: v })); },
        afterFit: (s: any) => { s.height = p.xHeight; s.paddingLeft = 0; s.paddingRight = 0; },
        ticks: { display: p.showX, autoSkip: false, maxRotation: 0, padding: 4, color: '#000', font: { family: SERIF, size: 20 }, callback: (v: number) => fmt(v) },
        grid: { color: GRID, lineWidth: 1, drawTicks: false },
        border: { display: false },
      },
      y: {
        type: 'linear', min: p.yMin, max: p.yMax,
        afterBuildTicks: (s: any) => { s.ticks = p.yTicks.map((v) => ({ value: v })); },
        afterFit: (s: any) => { s.width = 160; s.paddingTop = 0; s.paddingBottom = 0; },
        ticks: { autoSkip: false, padding: 12, color: '#000', font: { family: SERIF, size: 20 }, callback: (v: number) => fmt(v) },
        grid: { color: GRID, lineWidth: 1, drawTicks: false },
        border: { display: false },
      },
    },
  },
  plugins: [decorPlugin(p)],
});

// ---------------- HTML text helpers ----------------
const abs = (extra: React.CSSProperties): React.CSSProperties => ({ position: 'absolute', whiteSpace: 'nowrap', ...extra });
const rotated = (cx: number, cy: number, size: number): React.CSSProperties =>
  abs({ left: cx, top: cy, transform: 'translate(-50%, -50%) rotate(-90deg)', fontFamily: SERIF, fontSize: size, lineHeight: 1, color: '#000' });
const subStyle: React.CSSProperties = { fontSize: '0.68em', verticalAlign: '-0.3em', lineHeight: 0 };
const subSubStyle: React.CSSProperties = { fontSize: '0.75em', verticalAlign: '-0.25em', lineHeight: 0 };

const HEADER_ROW_Y = [28, 65, 102];
const SEG_TEXT_X = [172, 492, 861, 1022];

export default function App() {
  const r0 = useRef<HTMLCanvasElement>(null);
  const r1 = useRef<HTMLCanvasElement>(null);
  const r2 = useRef<HTMLCanvasElement>(null);
  const r3 = useRef<HTMLCanvasElement>(null);
  const refs = [r0, r1, r2, r3];

  useEffect(() => {
    const charts = PANELS.map((p, i) => new Chart(refs[i].current as HTMLCanvasElement, buildConfig(p)));
    return () => charts.forEach((c) => c.destroy());
  }, []);

  const segValues = [SEG_NAMES, SEG_TYPES, SEG_DIRS];

  return (
    <div style={abs({ left: 0, top: 0, width: 1255, height: 754, background: '#fff', overflow: 'hidden' })}>
      {HEADER_LABELS.map((lab, r) => (
        <div key={'h' + r} style={abs({ left: 0, width: 148, top: HEADER_ROW_Y[r] - 15, lineHeight: '30px', textAlign: 'right', fontFamily: HEAD_FONT, fontWeight: 'bold', fontSize: 22, color: '#000' })}>{lab}</div>
      ))}
      {segValues.map((row, r) =>
        row.map((txt, s) => (
          <div key={'v' + r + '_' + s} style={abs({ left: SEG_TEXT_X[s], top: HEADER_ROW_Y[r] - 15, lineHeight: '30px', fontFamily: HEAD_FONT, fontSize: 22, color: '#000' })}>{txt}</div>
        ))
      )}
      {PANELS.map((p, i) => (
        <canvas key={p.key} ref={refs[i]} width={1255} height={p.height} style={abs({ left: 0, top: p.top, width: 1255, height: p.height, display: 'block' })} />
      ))}
      {/* y-axis titles */}
      <div style={rotated(62, 195, 26)}><i>V</i><i style={subStyle}>W</i></div>
      <div style={rotated(101, 196, 22)}>[m/s]</div>
      <div style={rotated(22, 335, 26)}><i>χ</i><i style={subStyle}>W</i></div>
      <div style={rotated(55, 334, 22)}>[°]</div>
      <div style={rotated(84, 472, 26)}><i>w</i><span style={subStyle}><i>V</i><i style={subSubStyle}>W</i></span></div>
      <div style={rotated(70, 611, 26)}><i>w</i><i style={subStyle}>χW</i></div>
      {/* x-axis title */}
      <div style={abs({ left: 705, top: 736, transform: 'translate(-50%, -50%)', fontFamily: SERIF, fontSize: 23, lineHeight: 1, color: '#000' })}>time [<i>s</i>]</div>
    </div>
  );
}
